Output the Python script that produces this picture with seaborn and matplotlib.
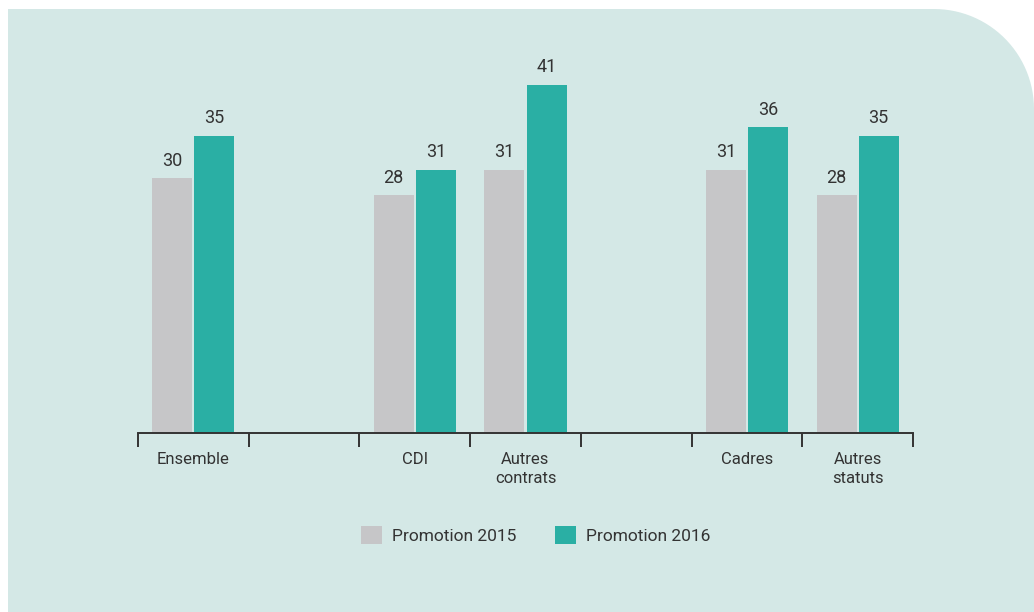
import numpy as np
import pandas as pd
import matplotlib.pyplot as plt
import seaborn as sns
from matplotlib.patches import Polygon, Patch

# data
categories = ["Ensemble", "gap1", "CDI", "Autres\ncontrats", "gap2", "Cadres", "Autres\nstatuts"]
tick_labels = ["Ensemble", "", "CDI", "Autres\ncontrats", "", "Cadres", "Autres\nstatuts"]
series = ["Promotion 2015", "Promotion 2016"]
values_2015 = [30, None, 28, 31, None, 31, 28]
values_2016 = [35, None, 31, 41, None, 36, 35]

colors = ["#c6c6c8", "#2aafa4"]
bg = "#d4e8e6"
text_col = "#333333"

rows = []
for cat, v15, v16 in zip(categories, values_2015, values_2016):
    if v15 is not None:
        rows.append({"cat": cat, "serie": series[0], "val": v15})
        rows.append({"cat": cat, "serie": series[1], "val": v16})
df = pd.DataFrame(rows)

sns.set_style("white")
plt.rcParams['font.family'] = ['Roboto', 'DejaVu Sans']

fig = plt.figure(figsize=(10.34, 6.12), dpi=100)
fig.patch.set_facecolor("white")

# background panel with rounded top-right corner
W, H = 1034, 612
x0, ytop, r = 8, 9, 100
ang = np.linspace(np.pi / 2, 0, 30)
arc = [((W - r + r * np.cos(a)) / W, (H - ytop - r + r * np.sin(a)) / H) for a in ang]
pts = [(x0 / W, 0), (x0 / W, (H - ytop) / H)] + arc + [(1, 0)]
fig.patches.append(Polygon(pts, closed=True, transform=fig.transFigure,
                           facecolor=bg, edgecolor="none", zorder=-10))

ax = fig.add_axes([138 / W, 1 - 433 / H, 775 / W, (433 - 50.5) / H])
ax.set_facecolor("none")

sns.barplot(data=df, x="cat", y="val", hue="serie", order=categories,
            hue_order=series, palette=colors, width=0.76, gap=0.05,
            saturation=1, errorbar=None, linewidth=0, ax=ax, legend=False)

for cont in ax.containers:
    ax.bar_label(cont, fmt="%d", padding=6, fontsize=13, color=text_col)

ax.set_xlim(-0.5, len(categories) - 0.5)
ax.set_ylim(0, 45)
ax.set_xlabel("")
ax.set_ylabel("")
ax.set_yticks([])
for s in ["top", "right", "left"]:
    ax.spines[s].set_visible(False)
ax.spines["bottom"].set_color(text_col)
ax.spines["bottom"].set_linewidth(1.4)

ax.set_xticks(range(len(categories)))
ax.set_xticklabels(tick_labels, fontsize=12, color=text_col, linespacing=1.3, va="top")
ax.tick_params(axis="x", which="major", length=0, pad=14)
ax.set_xticks(np.arange(-0.5, len(categories), 1), minor=True)
ax.tick_params(axis="x", which="minor", bottom=True, length=10, width=1.4,
               color=text_col, direction="out")

handles = [Patch(facecolor=c, edgecolor="none") for c in colors]
fig.legend(handles, series, loc="center", bbox_to_anchor=(0.518, 0.126), ncol=2,
           frameon=False, fontsize=12.5, handlelength=1.2, handleheight=1.2,
           handletextpad=0.6, columnspacing=2.2, labelcolor=text_col)

fig.savefig("out.png", dpi=100, facecolor=fig.get_facecolor())
